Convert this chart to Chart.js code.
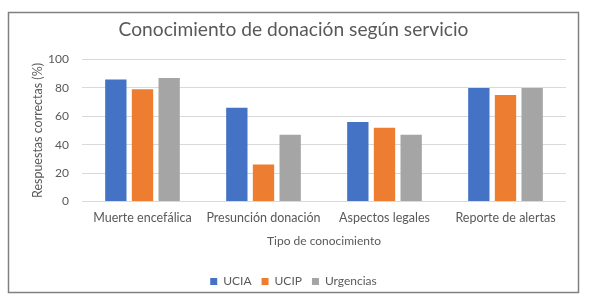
<!DOCTYPE html>
<html>
<head>
<meta charset="utf-8">
<script src="https://cdn.jsdelivr.net/npm/chart.js@4/dist/chart.umd.min.js"></script>
<style>
  html, body { margin: 0; padding: 0; background: #fff; }
  #wrap { width: 589px; height: 300px; }
</style>
</head>
<body>
<div id="wrap"><canvas id="chart" width="589" height="300"></canvas></div>
<script>
// Data
const categories = ['Muerte encefálica', 'Presunción donación', 'Aspectos legales', 'Reporte de alertas'];
const ucia = [86, 66, 56, 80];
const ucip = [79, 26, 52, 75];
const urgencias = [87, 47, 47, 80];
const yTicks = [0, 20, 40, 60, 80, 100];

const textColor = '#595959';
const fontFamily = 'Lato, "Open Sans", sans-serif';

// Outer frame round the whole chart
const framePlugin = {
    id: 'frame',
    afterDraw(chart) {
        const ctx = chart.ctx;
        ctx.save();
        ctx.strokeStyle = '#808080';
        ctx.lineWidth = 1.5;
        ctx.strokeRect(8.5, 12.5, 570, 280);
        ctx.restore();
    }
};

new Chart(document.getElementById('chart').getContext('2d'), {
    type: 'bar',
    data: {
        labels: categories,
        datasets: [
            { label: 'UCIA', data: ucia, backgroundColor: '#4472C4' },
            { label: 'UCIP', data: ucip, backgroundColor: '#ED7D31' },
            { label: 'Urgencias', data: urgencias, backgroundColor: '#A5A5A5' }
        ]
    },
    options: {
        responsive: false,
        animation: false,
        devicePixelRatio: 1,
        layout: { padding: { left: 21, right: 23, top: 0, bottom: 2.5 } },
        datasets: {
            bar: { categoryPercentage: 0.661, barPercentage: 0.8 }
        },
        plugins: {
            title: {
                display: true,
                text: 'Conocimiento de donación según servicio',
                color: textColor,
                font: { family: fontFamily, size: 19.2, weight: 'normal' },
                padding: { top: 18.5, bottom: 17.96 }
            },
            legend: {
                position: 'bottom',
                labels: {
                    color: textColor,
                    font: { family: fontFamily, size: 12 },
                    boxWidth: 7,
                    boxHeight: 7,
                    padding: 10
                }
            },
            tooltip: { enabled: false }
        },
        scales: {
            x: {
                afterFit(axis) { axis.height = 64; },
                grid: { display: false, drawTicks: false },
                border: { display: false },
                ticks: { color: textColor, font: { family: fontFamily, size: 12.5 }, padding: 9 },
                title: {
                    display: true,
                    text: 'Tipo de conocimiento',
                    color: textColor,
                    font: { family: fontFamily, size: 12 },
                    padding: { top: 0, bottom: 16.8 }
                }
            },
            y: {
                min: 0,
                max: 100,
                afterFit(axis) { axis.width = 61; },
                afterBuildTicks(axis) {
                    axis.ticks = yTicks.map(v => ({ value: v }));
                },
                grid: { color: '#d9d9d9', drawTicks: false },
                border: { display: false },
                ticks: { color: textColor, font: { family: fontFamily, size: 12 }, padding: 13 },
                title: {
                    display: true,
                    text: 'Respuestas correctas (%)',
                    color: textColor,
                    font: { family: fontFamily, size: 12.5 },
                    padding: { top: 9.8, bottom: 0 }
                }
            }
        }
    },
    plugins: [framePlugin]
});
</script>
</body>
</html>
